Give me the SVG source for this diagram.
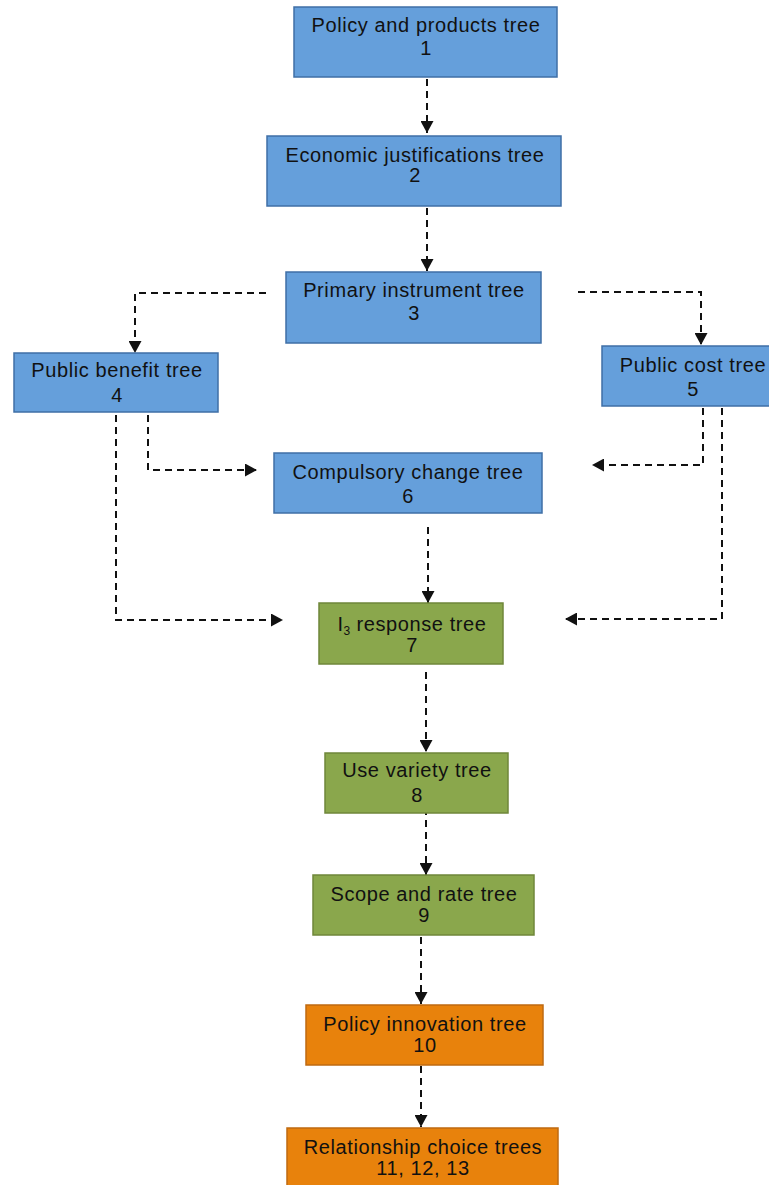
<svg xmlns="http://www.w3.org/2000/svg" width="769" height="1185" viewBox="0 0 769 1185">
<style>
.blue{fill:#659fdb;stroke:#3f6fa6;stroke-width:1.5}
.green{fill:#8aa74c;stroke:#6f873a;stroke-width:1.5}
.orange{fill:#e8820c;stroke:#bf6a10;stroke-width:1.5}
text{font-family:"Liberation Sans",Arial,sans-serif;font-size:20px;letter-spacing:0.6px;fill:#111;text-anchor:middle}
.c{fill:none;stroke:#111;stroke-width:2;stroke-dasharray:7 5}
</style>
<defs>
<marker id="ah" markerUnits="userSpaceOnUse" markerWidth="13" markerHeight="13" refX="12" refY="6.5" orient="auto">
<path d="M0,0 L12,6.5 L0,13 Z" fill="#111"/>
</marker>
</defs>
<rect width="769" height="1185" fill="#fff"/>
<g id="connectors">
<path class="c" d="M427,79 V133" marker-end="url(#ah)"/>
<path class="c" d="M427,208 V271" marker-end="url(#ah)"/>
<path class="c" d="M266,293 H135 V353" marker-end="url(#ah)"/>
<path class="c" d="M578,292 H701 V345" marker-end="url(#ah)"/>
<path class="c" d="M148,415 V470 H257" marker-end="url(#ah)"/>
<path class="c" d="M116,415 V620 H283" marker-end="url(#ah)"/>
<path class="c" d="M703,408 V465 H592" marker-end="url(#ah)"/>
<path class="c" d="M722,408 V619 H565" marker-end="url(#ah)"/>
<path class="c" d="M428,527 V603" marker-end="url(#ah)"/>
<path class="c" d="M426,672 V752" marker-end="url(#ah)"/>
<path class="c" d="M426,808 V875" marker-end="url(#ah)"/>
<path class="c" d="M421,937 V1004" marker-end="url(#ah)"/>
<path class="c" d="M421,1066 V1127" marker-end="url(#ah)"/>
</g>
<g id="n1"><rect class="blue" x="294" y="7" width="263" height="70"/><text x="426" y="32">Policy and products tree</text><text x="426" y="55">1</text></g>
<g id="n2"><rect class="blue" x="267" y="136" width="294" height="70"/><text x="415" y="162">Economic justifications tree</text><text x="415" y="182">2</text></g>
<g id="n3"><rect class="blue" x="286" y="272" width="255" height="71"/><text x="414" y="297">Primary instrument tree</text><text x="414" y="320">3</text></g>
<g id="n4"><rect class="blue" x="14" y="353" width="204" height="59"/><text x="117" y="377">Public benefit tree</text><text x="117" y="402">4</text></g>
<g id="n5"><rect class="blue" x="602" y="346" width="180" height="60"/><text x="693" y="372">Public cost tree</text><text x="693" y="396">5</text></g>
<g id="n6"><rect class="blue" x="274" y="453" width="268" height="60"/><text x="408" y="479">Compulsory change tree</text><text x="408" y="503">6</text></g>
<g id="n7"><rect class="green" x="319" y="603" width="184" height="61"/><text x="412" y="631">I<tspan font-size="12" letter-spacing="0" dy="4">3</tspan><tspan dy="-4"> response tree</tspan></text><text x="412" y="652">7</text></g>
<g id="n8"><rect class="green" x="325" y="753" width="183" height="60"/><text x="417" y="777">Use variety tree</text><text x="417" y="802">8</text></g>
<g id="n9"><rect class="green" x="313" y="875" width="221" height="60"/><text x="424" y="901">Scope and rate tree</text><text x="424" y="922">9</text></g>
<g id="n10"><rect class="orange" x="306" y="1005" width="237" height="60"/><text x="425" y="1031">Policy innovation tree</text><text x="425" y="1052">10</text></g>
<g id="n11"><rect class="orange" x="287" y="1128" width="271" height="70"/><text x="423" y="1154">Relationship choice trees</text><text x="423" y="1175">11, 12, 13</text></g>
</svg>
